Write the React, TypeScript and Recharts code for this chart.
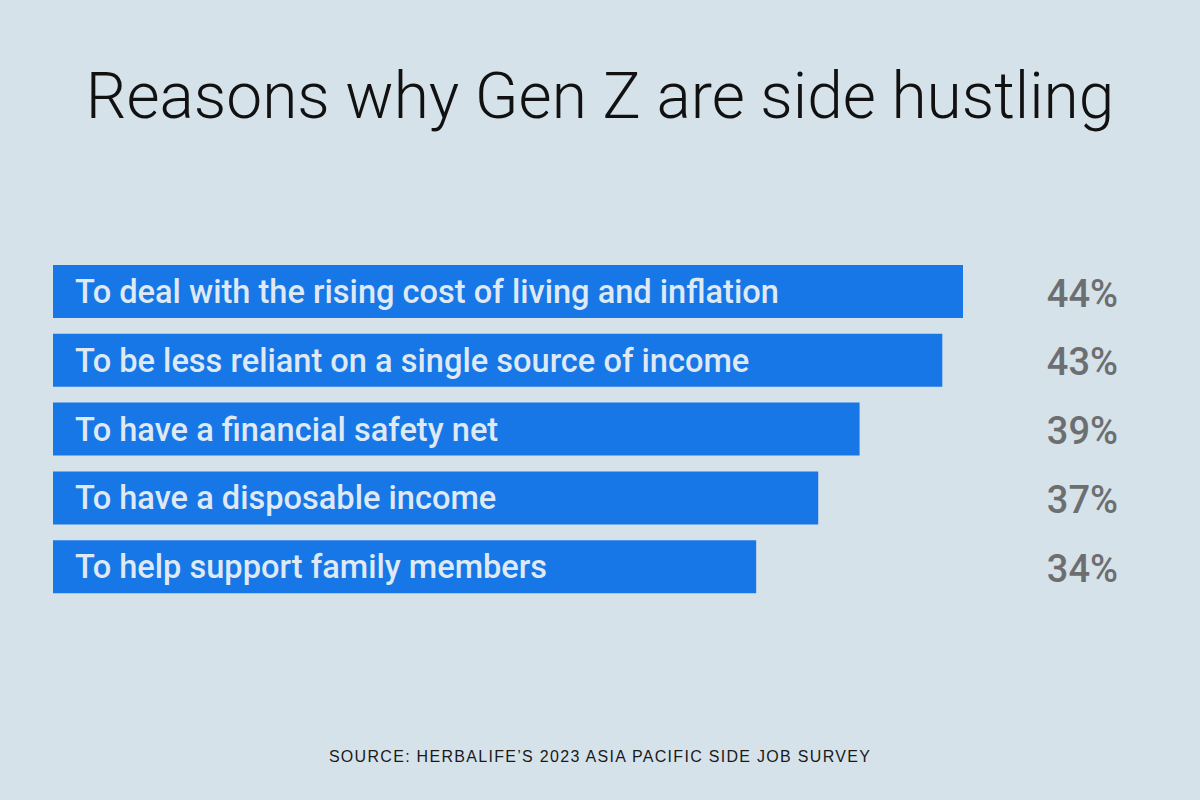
import React from 'react';
import { BarChart, Bar, XAxis, YAxis, LabelList } from 'recharts';

const reasons = [
  'To deal with the rising cost of living and inflation',
  'To be less reliant on a single source of income',
  'To have a financial safety net',
  'To have a disposable income',
  'To help support family members',
];
const shares = [44, 43, 39, 37, 34];

const data = reasons.map((reason, i) => ({ reason, share: shares[i] }));

const BG = '#d6e2ea';
const BLUE = '#1877e6';

// value shown in a column at the right edge
const ValueLabel = (props: any) => {
  const { y, height, value } = props;
  return (
    <text
      x={1118}
      y={y + height / 2}
      dy={15}
      textAnchor="end"
      fill="#6d6e70"
      fontFamily="Roboto, 'Liberation Sans', sans-serif"
      fontWeight={500}
      fontSize={38}
    >
      {value}%
    </text>
  );
};

const App: React.FC = () => {
  return (
    <div style={{ position: 'absolute', top: 0, left: 0, width: 1200, height: 800, background: BG, overflow: 'hidden' }}>
      <div
        style={{
          position: 'absolute',
          top: 57,
          left: 0,
          width: 1200,
          textAlign: 'center',
          fontFamily: "Roboto, 'Liberation Sans', sans-serif",
          fontWeight: 300,
          fontSize: 64,
          lineHeight: '80px',
          color: '#111',
        }}
      >
        Reasons why Gen Z are side hustling
      </div>

      <BarChart
        width={1200}
        height={800}
        data={data}
        layout="vertical"
        margin={{ top: 257, right: 237, bottom: 199, left: 53 }}
        style={{ position: 'absolute', top: 0, left: 0 }}
      >
        <XAxis type="number" domain={[0, 44]} hide />
        <YAxis type="category" dataKey="reason" hide />
        <Bar dataKey="share" fill={BLUE} barSize={53} isAnimationActive={false}>
          <LabelList
            dataKey="reason"
            position="insideLeft"
            offset={22}
            fill="#dfe9f3"
            fontFamily="Roboto, 'Liberation Sans', sans-serif"
            fontWeight={500}
            fontSize={32.6}
          />
          <LabelList dataKey="share" content={<ValueLabel />} />
        </Bar>
      </BarChart>

      <div
        style={{
          position: 'absolute',
          top: 748,
          left: 0,
          width: 1200,
          textAlign: 'center',
          fontFamily: "'Liberation Sans', Arial, sans-serif",
          fontSize: 16,
          letterSpacing: 1.3,
          color: '#1a1a1a',
        }}
      >
        SOURCE: HERBALIFE’S 2023 ASIA PACIFIC SIDE JOB SURVEY
      </div>
    </div>
  );
};

export default App;
